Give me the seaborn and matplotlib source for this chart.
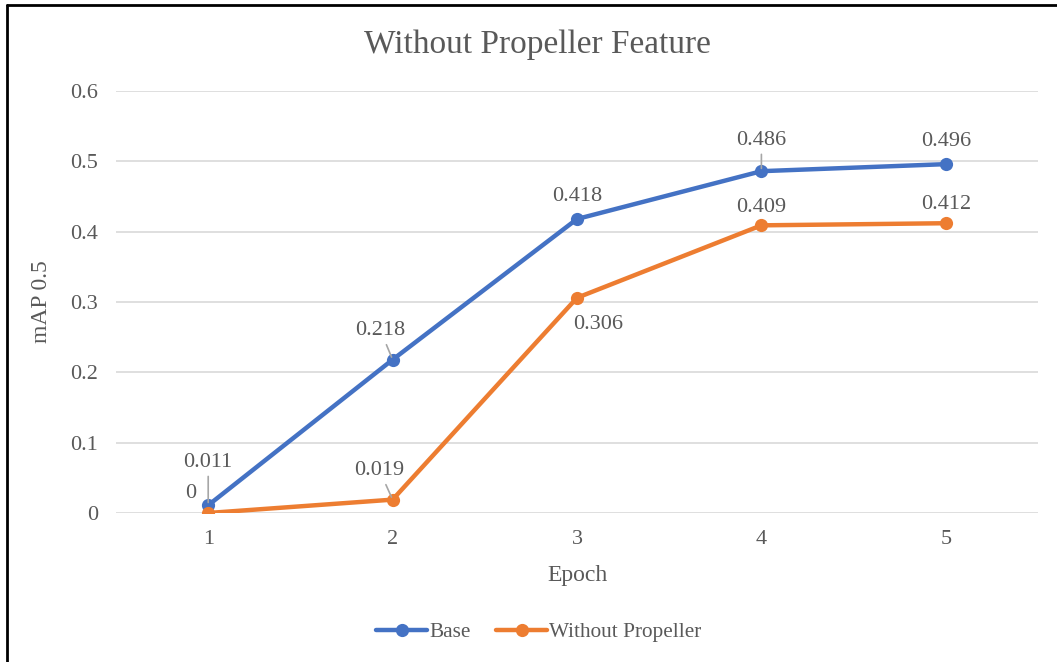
import matplotlib
matplotlib.use("Agg")
import matplotlib.pyplot as plt
import seaborn as sns
import pandas as pd
from matplotlib.lines import Line2D

# Data
epochs = [1, 2, 3, 4, 5]
base_map = [0.011, 0.218, 0.418, 0.486, 0.496]
no_prop_map = [0, 0.019, 0.306, 0.409, 0.412]
series_names = ["Base", "Without Propeller"]
y_ticks = [0, 0.1, 0.2, 0.3, 0.4, 0.5, 0.6]
y_tick_labels = ["0", "0.1", "0.2", "0.3", "0.4", "0.5", "0.6"]

sns.set_theme(style="white")
plt.rcParams["font.family"] = ["Liberation Serif", "DejaVu Serif"]

text_color = "#595959"
colors = ["#4472C4", "#ED7D31"]

fig = plt.figure(figsize=(10.57, 6.62), dpi=100)
ax = fig.add_axes([116 / 1057, 1 - 513 / 662, (1038 - 116) / 1057, (513 - 91) / 662])

df = pd.DataFrame({
    "Epoch": epochs * 2,
    "mAP": base_map + no_prop_map,
    "Series": [series_names[0]] * 5 + [series_names[1]] * 5,
})

sns.lineplot(data=df, x="Epoch", y="mAP", hue="Series", palette=colors,
             marker="o", markersize=9.5, markeredgewidth=0, linewidth=3.2,
             ax=ax, legend=False)

ax.set_xlim(0.5, 5.5)
ax.set_ylim(0, 0.6)
ax.set_xticks(epochs)
ax.set_xticklabels([str(e) for e in epochs])
ax.set_yticks(y_ticks)
ax.set_yticklabels(y_tick_labels)
ax.yaxis.grid(True, color="#D9D9D9", linewidth=1.2)
ax.xaxis.grid(False)
for s in ax.spines.values():
    s.set_visible(False)
ax.tick_params(axis="both", length=0, labelsize=16, colors=text_color)
ax.tick_params(axis="y", pad=13)
ax.tick_params(axis="x", pad=12)

ax.set_xlabel("Epoch", fontsize=17, color=text_color, labelpad=12)
ax.set_ylabel("mAP 0.5", fontsize=17, color=text_color, labelpad=13)
fig.text(537 / 1057, 1 - 45 / 662, "Without Propeller Feature",
         ha="center", va="center", fontsize=24, color=text_color)

# Value labels (pixel offsets from each point)
base_offsets = [(0, 43, True), (-12, 29, True), (0, 23, False), (0, 31, True), (0, 23, False)]
prop_offsets = [(-18, 20, False), (-13, 29, True), (21, -27, False), (0, 18, False), (0, 19, False)]

def label_points(values, offsets):
    for x, v, (dx, dy, leader) in zip(epochs, values, offsets):
        txt = f"{v:g}"
        kw = {}
        if leader:
            kw["arrowprops"] = dict(arrowstyle="-", color="#A6A6A6", lw=1.2,
                                    shrinkA=1, shrinkB=2)
        ax.annotate(txt, xy=(x, v), xytext=(dx, dy), textcoords="offset pixels",
                    ha="center", va="center", fontsize=16, color=text_color, **kw)

label_points(base_map, base_offsets)
label_points(no_prop_map, prop_offsets)

handles = [Line2D([0], [0], color=c, marker="o", markersize=9.5, markeredgewidth=0,
                  linewidth=3.2) for c in colors]
fig.legend(handles, series_names, loc="center", bbox_to_anchor=(539 / 1057, 1 - 632 / 662),
           ncol=2, frameon=False, fontsize=15.3, labelcolor=text_color,
           handlelength=2.4, handletextpad=0.1, columnspacing=1.2)

# Chart frame
fig.add_artist(Line2D([7 / 1057, 1.0], [1 - 5 / 662, 1 - 5 / 662],
                      transform=fig.transFigure, color="black", linewidth=2))
fig.add_artist(Line2D([7 / 1057, 7 / 1057], [0, 1 - 5 / 662],
                      transform=fig.transFigure, color="black", linewidth=2))

fig.savefig("out.png", dpi=100)
